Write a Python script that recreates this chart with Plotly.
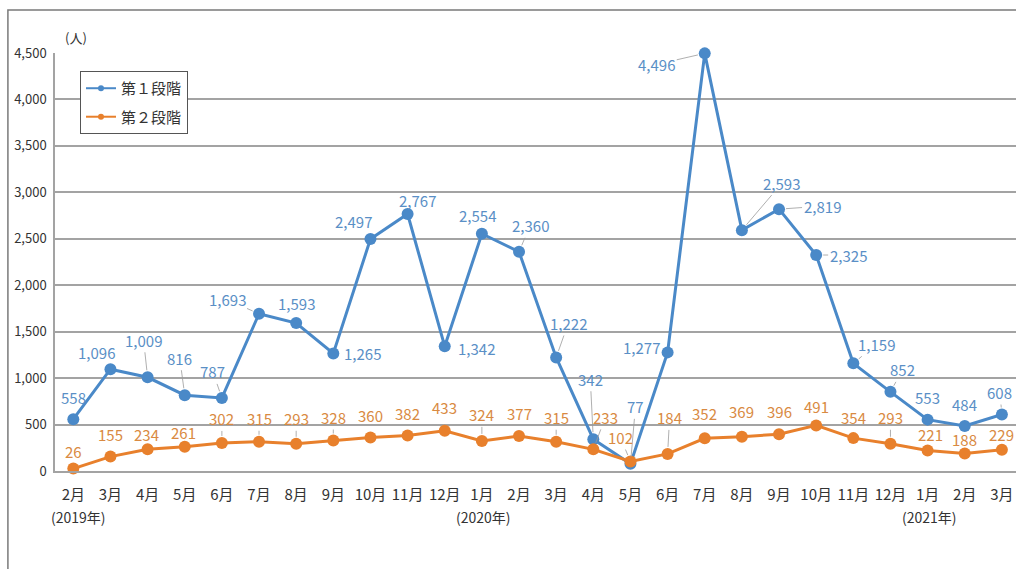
import plotly.graph_objects as go

months = ["2月", "3月", "4月", "5月", "6月", "7月", "8月", "9月", "10月", "11月", "12月",
          "1月", "2月", "3月", "4月", "5月", "6月", "7月", "8月", "9月", "10月", "11月", "12月",
          "1月", "2月", "3月"]
stage1 = [558, 1096, 1009, 816, 787, 1693, 1593, 1265, 2497, 2767, 1342, 2554, 2360,
          1222, 342, 77, 1277, 4496, 2593, 2819, 2325, 1159, 852, 553, 484, 608]
stage2 = [26, 155, 234, 261, 302, 315, 293, 328, 360, 382, 433, 324, 377,
          315, 233, 102, 184, 352, 369, 396, 491, 354, 293, 221, 188, 229]
year_labels = [(0, "(2019年)"), (11, "(2020年)"), (23, "(2021年)")]
y_ticks = [0, 500, 1000, 1500, 2000, 2500, 3000, 3500, 4000, 4500]

# label placement (pixel offsets, leader line flag)
s1_place = [(0, -22, 0), (-14, -17, 0), (-4, -37, 1), (-5, -37, 1), (-9, -26, 1), (-32, -14, 1),
            (0, -20, 0), (29, 0, 0), (-17, -18, 0), (10, -13, 0), (32, 2, 0), (-4, -18, 0),
            (11, -26, 1), (12, -34, 1), (-3, -60, 1), (5, -57, 1), (-26, -5, 0), (-48, 11, 1),
            (40, -47, 1), (43, -3, 1), (32, 0, 1), (23, -19, 1), (12, -22, 1), (0, -22, 0),
            (0, -22, 0), (-2, -22, 1)]
s2_place = [(0, -17, 0), (0, -22, 0), (-1, -15, 0), (-1, -14, 0), (0, -24, 1), (0, -23, 1),
            (0, -25, 1), (0, -23, 1), (0, -22, 0), (0, -22, 0), (0, -23, 0), (0, -26, 1),
            (0, -22, 0), (0, -24, 1), (12, -32, 1), (-10, -24, 1), (2, -36, 1), (0, -25, 0),
            (0, -25, 0), (0, -23, 0), (0, -19, 0), (0, -21, 0), (0, -26, 1), (3, -16, 0),
            (0, -14, 0), (0, -15, 0)]

FONT = "Noto Sans CJK JP, Noto Sans, sans-serif"
BLUE = "#4a89c8"
BLUE_TXT = "#5a8fc6"
ORANGE = "#e8802c"
ORANGE_TXT = "#d98a42"
GRID = "#a3a3a3"

x = list(range(len(months)))

fig = go.Figure()
fig.add_trace(go.Scatter(x=x, y=stage1, mode="lines+markers", showlegend=False, cliponaxis=False,
                         line=dict(color=BLUE, width=3), marker=dict(color=BLUE, size=12)))
fig.add_trace(go.Scatter(x=x, y=stage2, mode="lines+markers", showlegend=False, cliponaxis=False,
                         line=dict(color=ORANGE, width=3), marker=dict(color=ORANGE, size=12)))
# legend entries
fig.add_trace(go.Scatter(x=[None], y=[None], mode="lines+markers", name="第１段階", legendgroup="a",
                         line=dict(color=BLUE, width=2), marker=dict(color=BLUE, size=6)))
fig.add_trace(go.Scatter(x=[None], y=[None], mode="lines+markers", name="第２段階", legendgroup="b",
                         line=dict(color=ORANGE, width=2), marker=dict(color=ORANGE, size=6)))

ann = []
for vals, place, col in ((stage1, s1_place, BLUE_TXT), (stage2, s2_place, ORANGE_TXT)):
    for i, v in enumerate(vals):
        dx, dy, lead = place[i]
        ann.append(dict(x=i, y=v, xref="x", yref="y", text=f"{v:,}", showarrow=True,
                        ax=dx, ay=dy, arrowhead=0, arrowwidth=0.8, standoff=7,
                        arrowcolor="#9a9a9a" if lead else "rgba(0,0,0,0)",
                        font=dict(family=FONT, size=15, color=col)))
for i, t in year_labels:
    ann.append(dict(x=i, y=0, xref="x", yref="paper", text=t, showarrow=False,
                    yanchor="middle", yshift=-46, xshift=5 if i == 0 else 2,
                    font=dict(family=FONT, size=14, color="#333333")))
ann.append(dict(x=0, y=1, xref="paper", yref="paper", text="(人)", showarrow=False,
                xanchor="left", yanchor="bottom", xshift=8, yshift=4,
                font=dict(family=FONT, size=13, color="#333333")))

fig.update_layout(
    width=1016, height=569,
    margin=dict(l=55, r=0, t=53, b=98),
    paper_bgcolor="white", plot_bgcolor="white",
    annotations=ann,
    shapes=[dict(type="rect", xref="paper", yref="paper", x0=-0.049, x1=1.05, y0=-0.4, y1=1.103,
                 line=dict(color="#7a7a7a", width=1.5))],
    legend=dict(x=0.026, y=0.957, xanchor="left", yanchor="top",
                bordercolor="#555555", borderwidth=1, bgcolor="white",
                font=dict(family=FONT, size=15, color="#333333"), tracegroupgap=6),
    xaxis=dict(range=[-0.493, 25.38], tickmode="array", tickvals=x, ticktext=months,
               showgrid=False, zeroline=False, showline=True, linecolor=GRID, linewidth=1.5,
               ticks="outside", ticklen=9, tickcolor="rgba(0,0,0,0)",
               tickfont=dict(family=FONT, size=15, color="#333333")),
    yaxis=dict(range=[0, 4500], tickmode="array", tickvals=y_ticks,
               ticktext=[f"{v:,}" for v in y_ticks],
               showgrid=True, gridcolor=GRID, gridwidth=1.5, zeroline=False,
               showline=True, linecolor=GRID, linewidth=1.5,
               ticks="outside", ticklen=4, tickcolor="rgba(0,0,0,0)",
               tickfont=dict(family=FONT, size=13, color="#333333")),
)

fig.write_html("out.html")
